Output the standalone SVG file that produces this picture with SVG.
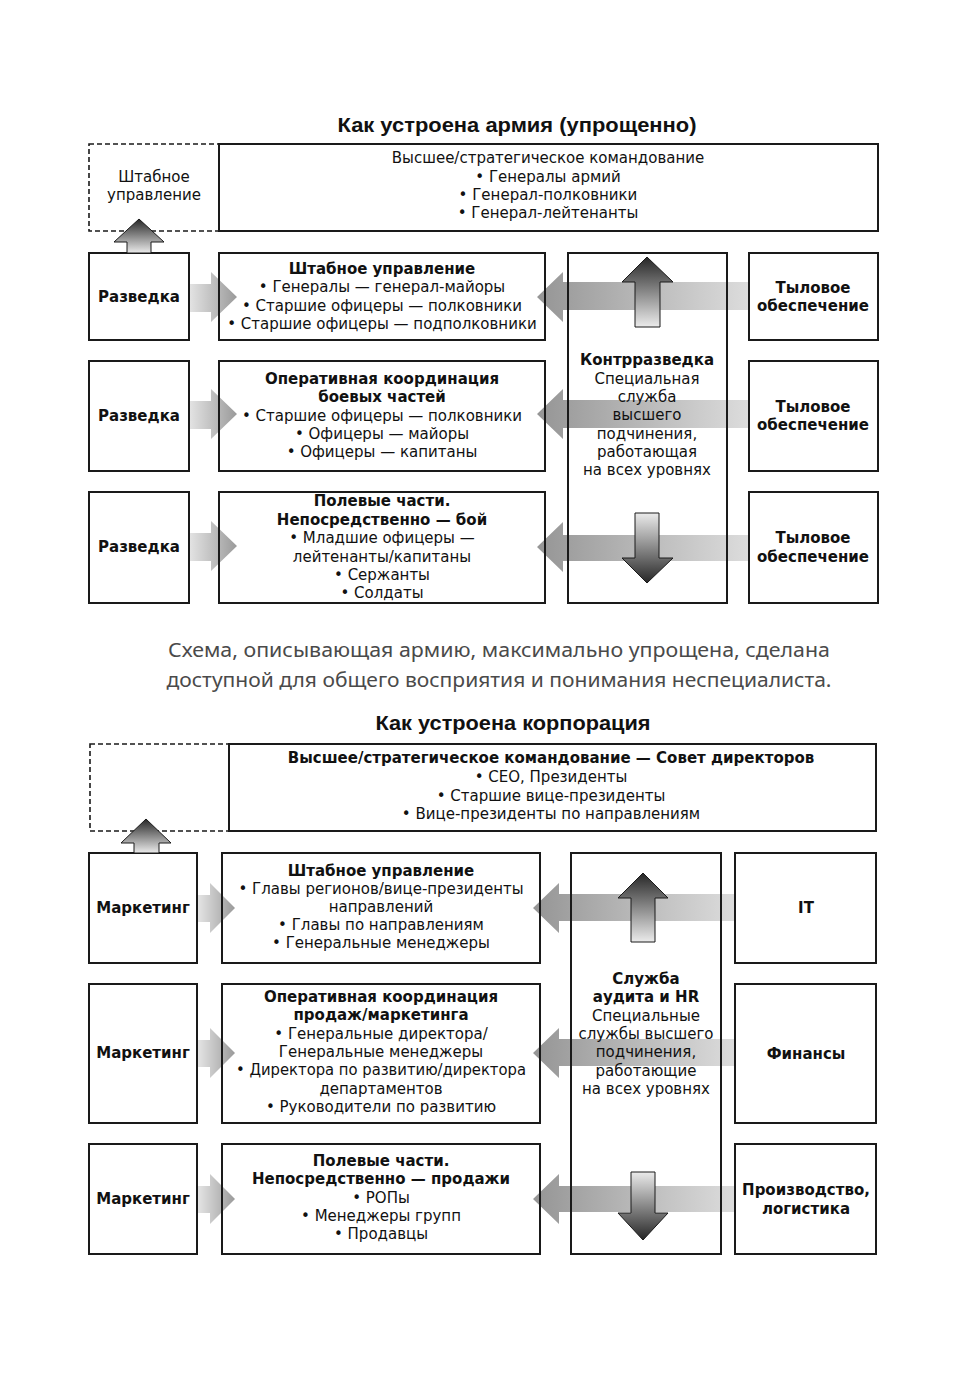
<svg xmlns="http://www.w3.org/2000/svg" width="974" height="1376" viewBox="0 0 974 1376">
<defs>
<linearGradient id="gR" x1="0" y1="0" x2="1" y2="0"><stop offset="0" stop-color="#e4e4e4"/><stop offset="1" stop-color="#9a9a9a"/></linearGradient>
<linearGradient id="gL" x1="0" y1="0" x2="1" y2="0"><stop offset="0" stop-color="#959595"/><stop offset="1" stop-color="#dcdcdc"/></linearGradient>
<linearGradient id="gU" x1="0" y1="0" x2="0" y2="1"><stop offset="0" stop-color="#262626"/><stop offset="1" stop-color="#ebebeb"/></linearGradient>
<linearGradient id="gD" x1="0" y1="0" x2="0" y2="1"><stop offset="0" stop-color="#ebebeb"/><stop offset="1" stop-color="#262626"/></linearGradient>
<style>
.box{fill:none;stroke:#1a1a1a;stroke-width:2}
.dash{fill:none;stroke:#1a1a1a;stroke-width:1.6;stroke-dasharray:5 3}
.hr{fill:url(#gR)}
.hl{fill:url(#gL)}
.vu{fill:url(#gU);stroke:#1a1a1a;stroke-width:1}
.vd{fill:url(#gD);stroke:#1a1a1a;stroke-width:1}
text{font-family:"DejaVu Sans","Liberation Sans",sans-serif;fill:#111;text-anchor:middle}
.r{font-size:15px}
.rc{font-size:15px}
.b{font-size:15px;font-weight:bold}
.title{font-family:"Liberation Sans",Arial,sans-serif;font-size:21px;font-weight:bold}
.para{font-family:"Noto Sans","Open Sans",sans-serif;font-size:19px;fill:#4a4a4a}
</style>
</defs>
<rect width="974" height="1376" fill="#fff"/>

<g id="connectors">
<path class="hr" d="M189,284 H211 V272 L237,297 L211,322 V312 H189 Z"/>
<path class="hr" d="M189,401 H211 V389 L237,414 L211,439 V429 H189 Z"/>
<path class="hr" d="M189,533 H211 V521 L237,546 L211,571 V561 H189 Z"/>
<path class="hl" d="M748,282 H563 V272 L537,297 L563,322 V310 H748 Z"/>
<path class="hl" d="M748,400 H563 V389 L537,414 L563,439 V428 H748 Z"/>
<path class="hl" d="M748,535 H563 V522 L537,547 L563,572 V561 H748 Z"/>
<path class="hr" d="M198,895 H210 V883 L235,908 L210,933 V922 H198 Z"/>
<path class="hr" d="M198,1040 H210 V1028 L235,1053 L210,1078 V1067 H198 Z"/>
<path class="hr" d="M198,1186 H210 V1174 L235,1199 L210,1224 V1213 H198 Z"/>
<path class="hl" d="M735,894 H559 V883 L533,908 L559,933 V921 H735 Z"/>
<path class="hl" d="M735,1039 H559 V1028 L533,1053 L559,1078 V1066 H735 Z"/>
<path class="hl" d="M735,1186 H559 V1174 L533,1199 L559,1224 V1212 H735 Z"/>
</g>

<g id="army">
<text class="title" x="517" y="132" textLength="359" lengthAdjust="spacingAndGlyphs">Как устроена армия (упрощенно)</text>
<g id="a-staff-side"><rect class="dash" x="89" y="144" width="130" height="87"/><text class="r" x="154" y="182">Штабное</text><text class="r" x="154" y="200">управление</text></g>
<g id="a-top"><rect class="box" x="219" y="144" width="659" height="87"/>
<text class="r" x="548" y="163">Высшее/стратегическое командование</text>
<text class="r" x="548" y="182">• Генералы армий</text>
<text class="r" x="548" y="200">• Генерал-полковники</text>
<text class="r" x="548" y="218">• Генерал-лейтенанты</text></g>

<g id="a-r1"><rect class="box" x="89" y="253" width="100" height="87"/><text class="b" x="139" y="302">Разведка</text></g>
<g id="a-r2"><rect class="box" x="89" y="361" width="100" height="110"/><text class="b" x="139" y="421">Разведка</text></g>
<g id="a-r3"><rect class="box" x="89" y="492" width="100" height="111"/><text class="b" x="139" y="552">Разведка</text></g>

<g id="a-m1"><rect class="box" x="219" y="253" width="326" height="87"/>
<text class="b" x="382" y="274">Штабное управление</text>
<text class="r" x="382" y="292">• Генералы — генерал-майоры</text>
<text class="r" x="382" y="311">• Старшие офицеры — полковники</text>
<text class="r" x="382" y="329">• Старшие офицеры — подполковники</text></g>
<g id="a-m2"><rect class="box" x="219" y="361" width="326" height="110"/>
<text class="b" x="382" y="384">Оперативная координация</text>
<text class="b" x="382" y="402">боевых частей</text>
<text class="r" x="382" y="421">• Старшие офицеры — полковники</text>
<text class="r" x="382" y="439">• Офицеры — майоры</text>
<text class="r" x="382" y="457">• Офицеры — капитаны</text></g>
<g id="a-m3"><rect class="box" x="219" y="492" width="326" height="111"/>
<text class="b" x="382" y="506">Полевые части.</text>
<text class="b" x="382" y="525">Непосредственно — бой</text>
<text class="r" x="382" y="543">• Младшие офицеры —</text>
<text class="r" x="382" y="562">лейтенанты/капитаны</text>
<text class="r" x="382" y="580">• Сержанты</text>
<text class="r" x="382" y="598">• Солдаты</text></g>

<g id="a-ci"><rect class="box" x="568" y="253" width="159" height="350"/>
<text class="b" x="647" y="365">Контрразведка</text>
<text class="r" x="647" y="384">Специальная</text>
<text class="r" x="647" y="402">служба</text>
<text class="r" x="647" y="420">высшего</text>
<text class="r" x="647" y="439">подчинения,</text>
<text class="r" x="647" y="457">работающая</text>
<text class="r" x="647" y="475">на всех уровнях</text></g>

<g id="a-l1"><rect class="box" x="749" y="253" width="129" height="87"/><text class="b" x="813" y="293">Тыловое</text><text class="b" x="813" y="311">обеспечение</text></g>
<g id="a-l2"><rect class="box" x="749" y="361" width="129" height="110"/><text class="b" x="813" y="412">Тыловое</text><text class="b" x="813" y="430">обеспечение</text></g>
<g id="a-l3"><rect class="box" x="749" y="492" width="129" height="111"/><text class="b" x="813" y="543">Тыловое</text><text class="b" x="813" y="562">обеспечение</text></g>

<path class="vu" d="M139,219 L164,242 H151 V253 H127 V242 H114 Z"/>
<path class="vu" d="M647,257 L673,282 H660 V327 H635 V282 H622 Z"/>
<path class="vd" d="M635,513 H659 V558 H673 L647,583 L622,558 H635 Z"/>
</g>

<g id="paragraph">
<text class="para" x="499" y="657" textLength="662" lengthAdjust="spacingAndGlyphs">Схема, описывающая армию, максимально упрощена, сделана</text>
<text class="para" x="499" y="687" textLength="665" lengthAdjust="spacingAndGlyphs">доступной для общего восприятия и понимания неспециалиста.</text>
</g>

<g id="corp">
<text class="title" x="513" y="730" textLength="275" lengthAdjust="spacingAndGlyphs">Как устроена корпорация</text>
<g id="c-side"><rect class="dash" x="90" y="744" width="139" height="87"/></g>
<g id="c-top"><rect class="box" x="229" y="744" width="647" height="87"/>
<text class="b" x="551" y="763">Высшее/стратегическое командование — Совет директоров</text>
<text class="rc" x="551" y="782">• CEO, Президенты</text>
<text class="rc" x="551" y="801">• Старшие вице-президенты</text>
<text class="rc" x="551" y="819">• Вице-президенты по направлениям</text></g>

<g id="c-r1"><rect class="box" x="89" y="853" width="108" height="110"/><text class="b" x="143" y="913">Маркетинг</text></g>
<g id="c-r2"><rect class="box" x="89" y="984" width="108" height="139"/><text class="b" x="143" y="1058">Маркетинг</text></g>
<g id="c-r3"><rect class="box" x="89" y="1144" width="108" height="110"/><text class="b" x="143" y="1204">Маркетинг</text></g>

<g id="c-m1"><rect class="box" x="222" y="853" width="318" height="110"/>
<text class="b" x="381" y="876">Штабное управление</text>
<text class="rc" x="381" y="894">• Главы регионов/вице-президенты</text>
<text class="rc" x="381" y="912">направлений</text>
<text class="rc" x="381" y="930">• Главы по направлениям</text>
<text class="rc" x="381" y="948">• Генеральные менеджеры</text></g>
<g id="c-m2"><rect class="box" x="222" y="984" width="318" height="139"/>
<text class="b" x="381" y="1002">Оперативная координация</text>
<text class="b" x="381" y="1020">продаж/маркетинга</text>
<text class="rc" x="381" y="1039">• Генеральные директора/</text>
<text class="rc" x="381" y="1057">Генеральные менеджеры</text>
<text class="rc" x="381" y="1075" textLength="290" lengthAdjust="spacingAndGlyphs">• Директора по развитию/директора</text>
<text class="rc" x="381" y="1094">департаментов</text>
<text class="rc" x="381" y="1112">• Руководители по развитию</text></g>
<g id="c-m3"><rect class="box" x="222" y="1144" width="318" height="110"/>
<text class="b" x="381" y="1166">Полевые части.</text>
<text class="b" x="381" y="1184">Непосредственно — продажи</text>
<text class="rc" x="381" y="1203">• РОПы</text>
<text class="rc" x="381" y="1221">• Менеджеры групп</text>
<text class="rc" x="381" y="1239">• Продавцы</text></g>

<g id="c-audit"><rect class="box" x="571" y="853" width="150" height="401"/>
<text class="b" x="646" y="984">Служба</text>
<text class="b" x="646" y="1002">аудита и HR</text>
<text class="rc" x="646" y="1021">Специальные</text>
<text class="rc" x="646" y="1039">службы высшего</text>
<text class="rc" x="646" y="1057">подчинения,</text>
<text class="rc" x="646" y="1076">работающие</text>
<text class="rc" x="646" y="1094">на всех уровнях</text></g>

<g id="c-it"><rect class="box" x="735" y="853" width="141" height="110"/><text class="b" x="806" y="913">IT</text></g>
<g id="c-fin"><rect class="box" x="735" y="984" width="141" height="139"/><text class="b" x="806" y="1059">Финансы</text></g>
<g id="c-prod"><rect class="box" x="735" y="1144" width="141" height="110"/><text class="b" x="806" y="1195">Производство,</text><text class="b" x="806" y="1214">логистика</text></g>

<path class="vu" d="M146,819 L171,843 H159 V853 H134 V843 H121 Z"/>
<path class="vu" d="M643,873 L668,898 H655 V942 H631 V898 H618 Z"/>
<path class="vd" d="M631,1172 H655 V1213 H668 L643,1240 L618,1213 H631 Z"/>
</g>
</svg>
